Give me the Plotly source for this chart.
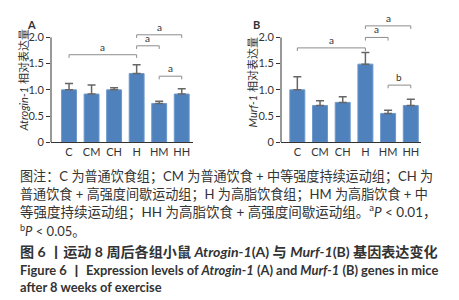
import plotly.graph_objects as go

groups = ["C", "CM", "CH", "H", "HM", "HH"]

atrogin_mean = [1.00, 0.92, 1.00, 1.31, 0.74, 0.92]
atrogin_err = [0.12, 0.17, 0.04, 0.17, 0.04, 0.10]

murf_mean = [1.00, 0.70, 0.76, 1.49, 0.55, 0.70]
murf_err = [0.25, 0.09, 0.11, 0.22, 0.06, 0.12]

# significance brackets: (group from, group to, level, label)
atrogin_sig = [("C", "H", 1.67, "a"), ("H", "HM", 1.84, "a"), ("H", "HH", 2.05, "a"), ("HM", "HH", 1.26, "a")]
murf_sig = [("C", "H", 1.80, "a"), ("H", "HM", 2.00, "a"), ("H", "HH", 2.22, "a"), ("HM", "HH", 1.09, "b")]

BAR = "#4F81BD"
TXT = "#333333"
GRAY = "#8c8c8c"
FONT = "Lato, Noto Sans CJK SC, sans-serif"

fig = go.Figure()

panels = [
    ("x", "y", atrogin_mean, atrogin_err, atrogin_sig),
    ("x2", "y2", murf_mean, murf_err, murf_sig),
]

for xa, ya, means, errs, sigs in panels:
    fig.add_trace(go.Bar(
        x=groups, y=means, xaxis=xa, yaxis=ya,
        marker=dict(color=BAR, line=dict(color="#6d98cc", width=1)),
        width=0.66,
        error_y=dict(type="data", symmetric=False, array=errs,
                     arrayminus=[0] * len(errs), color="#666666",
                     thickness=1.5, width=4),
        showlegend=False, hoverinfo="skip",
    ))
    for g1, g2, lev, lab in sigs:
        drop = 0.06
        fig.add_trace(go.Scatter(
            x=[g1, g1, g2, g2], y=[lev - drop, lev, lev, lev - drop],
            xaxis=xa, yaxis=ya, mode="lines",
            line=dict(color=GRAY, width=1),
            showlegend=False, hoverinfo="skip", cliponaxis=False,
        ))
        i1, i2 = groups.index(g1), groups.index(g2)
        fig.add_annotation(
            x=(i1 + i2) / 2, y=lev, xref=xa, yref=ya,
            text=lab, showarrow=False, xanchor="center", yanchor="bottom",
            font=dict(size=10, color=TXT, family=FONT),
        )

ydom = [1 - 137 / 300, 1 - 11.3 / 300]
axis_common_y = dict(
    range=[0, 2.35], tickvals=[0, 0.5, 1.0, 1.5, 2.0],
    ticktext=["0", "0.5", "1.0", "1.5", "2.0"],
    ticks="outside", ticklen=4, tickcolor=TXT, tickwidth=1,
    showgrid=False, zeroline=False, showline=False,
    tickfont=dict(size=11, color=TXT, family=FONT),
    domain=ydom,
)
axis_common_x = dict(
    type="category", showgrid=False, zeroline=False,
    showline=True, linecolor=TXT, linewidth=1, ticks="",
    tickfont=dict(size=11, color=TXT, family=FONT),
)

fig.update_layout(
    width=459, height=300,
    margin=dict(l=0, r=0, t=0, b=0),
    paper_bgcolor="white", plot_bgcolor="white",
    xaxis=dict(**axis_common_x, domain=[43 / 459, 185 / 459], range=[-0.8, 5.5], anchor="y"),
    yaxis=dict(**axis_common_y, anchor="x"),
    xaxis2=dict(**axis_common_x, domain=[273 / 459, 413 / 459], range=[-0.72, 5.45], anchor="y2"),
    yaxis2=dict(**axis_common_y, anchor="x2"),
)

# y axis lines stopping at 2.0
for xr, yr in [("x domain", "y"), ("x2 domain", "y2")]:
    fig.add_shape(type="line", xref=xr, yref=yr, x0=0, x1=0, y0=0, y1=2.0,
                  line=dict(color=TXT, width=1))

def paper_note(x, y, text, size, **kw):
    fig.add_annotation(x=x / 459, y=1 - y / 300, xref="paper", yref="paper",
                       text=text, showarrow=False,
                       font=dict(size=size, color=TXT, family=FONT),
                       **kw)

# axis titles
paper_note(16, 74, "<i>Atrogin-1</i> 相对表达量", 11, textangle=-90, xanchor="center", yanchor="middle")
paper_note(244, 76, "<i>Murf-1</i> 相对表达量", 11, textangle=-90, xanchor="center", yanchor="middle")
# panel letters
paper_note(23, 17, "<b>A</b>", 11, xanchor="center", yanchor="middle")
paper_note(248, 17, "<b>B</b>", 11, xanchor="center", yanchor="middle")

caption = [
    ("图注：C 为普通饮食组；CM 为普通饮食 + 中等强度持续运动组；CH 为", 172, False, 13.1),
    ("普通饮食 + 高强度间歇运动组；H 为高脂饮食组；HM 为高脂饮食 + 中", 190, False, 13.1),
    ("等强度持续运动组；HH 为高脂饮食 + 高强度间歇运动组。<sup>a</sup><i>P</i> < 0.01，", 208, False, 13.5),
    ("<sup>b</sup><i>P</i> < 0.05。", 227, False, 13),
    ("图 6 丨运动 8 周后各组小鼠 <i>Atrogin-1</i>(A) 与 <i>Murf-1</i>(B) 基因表达变化", 248, True, 14.1),
    ("Figure 6 丨 Expression levels of <i>Atrogin-1</i> (A) and <i>Murf-1</i> (B) genes in mice", 267, True, 12.9),
    ("after 8 weeks of exercise", 285, True, 12.9),
]
for txt, yc, bold, sz in caption:
    paper_note(10, yc, f"<b>{txt}</b>" if bold else txt, sz,
               xanchor="left", yanchor="middle")

fig.write_html("out.html")
